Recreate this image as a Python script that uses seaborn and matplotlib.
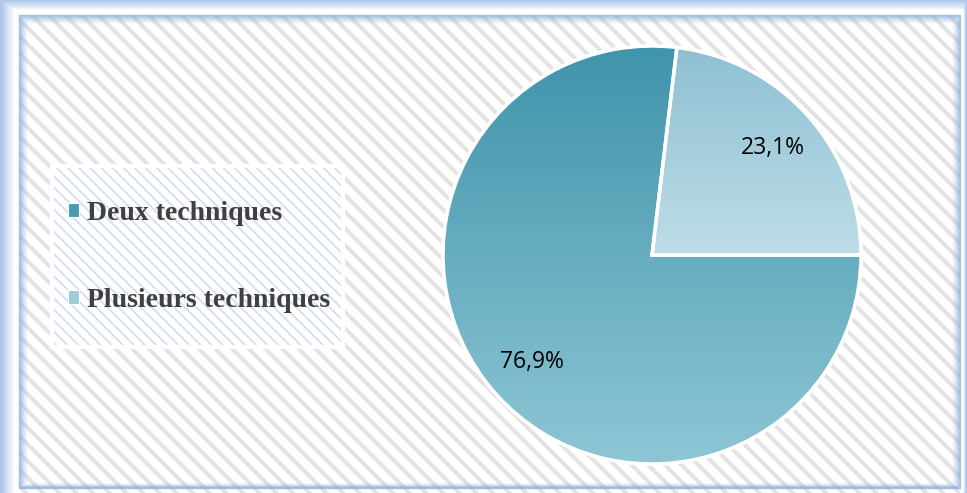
import numpy as np
import matplotlib
matplotlib.use("Agg")
import matplotlib.pyplot as plt
import seaborn as sns
from matplotlib.patches import Rectangle, Patch, Wedge
from matplotlib.colors import LinearSegmentedColormap

# ---- data ----
categories = ["Deux techniques", "Plusieurs techniques"]
values = [76.9, 23.1]
top_colors = ["#3F94AB", "#8EC0D2"]
bottom_colors = ["#8EC6D5", "#BEDDE7"]
legend_colors = ["#4A9CB2", "#9ECBDA"]

sns.set_style("white")
plt.rcParams["font.family"] = ["Liberation Serif", "DejaVu Serif"]

W, H = 967, 493
fig = plt.figure(figsize=(W / 100, H / 100), dpi=100)
fig.patch.set_facecolor("white")

def frect(x0, y0, x1, y1, z=-10, **kw):
    # pixel coords (top-left origin) -> figure fraction
    r = Rectangle((x0 / W, 1 - y1 / H), (x1 - x0) / W, (y1 - y0) / H,
                  transform=fig.transFigure, zorder=z, **kw)
    fig.patches.append(r)
    return r

# outer blue glow
frect(0, 0, W, H, facecolor="#A9C3E8", edgecolor="none")
for i, a in enumerate(np.linspace(0.15, 0.9, 8)):
    frect(i * 1.5, i * 1.1, W - i * 0.6, H, facecolor="white", edgecolor="none", alpha=a * 0.35)
frect(13, 9, W - 3, H, facecolor="white", edgecolor="none")

# inner hatched panel
plt.rcParams["hatch.linewidth"] = 2.9
frect(19, 15, W - 7, H + 5, facecolor="white", edgecolor="#E3E3E3", linewidth=0, hatch="\\\\")
# inner blue shadow edge
for i in range(9):
    frect(19 + i, 15 + i, W - 7 - i, H - 5 - i * 0.6, facecolor="none",
          edgecolor="#8FB1DE", linewidth=1.0, alpha=0.75 * (1 - i / 9) ** 1.5)

# legend box
plt.rcParams["hatch.linewidth"] = 1.3
frect(52, 166, 343, 347, facecolor="white", edgecolor="#D3DFF1", linewidth=0, hatch="\\\\\\")
frect(52, 166, 343, 347, facecolor="none", edgecolor="white", linewidth=3)

# ---- pie ----
cx, cy, R = 652, 255, 209
half = 220
ax = fig.add_axes([(cx - half) / W, 1 - (cy + half) / H, 2 * half / W, 2 * half / H])
ax.set_zorder(5)
ax.axis("off")
ax.patch.set_alpha(0)

wedges, _, autotexts = ax.pie(
    values, startangle=360 * values[1] / 100, counterclock=True,
    colors=legend_colors, radius=1.0,
    autopct=lambda p: f"{p:.1f}%".replace(".", ","), pctdistance=0.77,
    wedgeprops=dict(edgecolor="white", linewidth=2.5),
    textprops=dict(fontsize=16.5, color="black", family=["Open Sans", "DejaVu Sans"]),
)

for w, c0, c1 in zip(wedges, top_colors, bottom_colors):
    theta1, theta2 = w.theta1, w.theta2
    ang = np.radians(np.linspace(theta1, theta2, 200))
    ys = np.concatenate([[0], np.sin(ang)])
    ymin, ymax = ys.min(), ys.max()
    cmap = LinearSegmentedColormap.from_list("g", [c1, c0])
    grad = np.linspace(0, 1, 256).reshape(-1, 1)
    im = ax.imshow(grad, cmap=cmap, origin="lower", extent=[-1, 1, ymin, ymax],
                   aspect="auto", zorder=w.get_zorder() + 0.1, interpolation="bicubic")
    im.set_clip_path(w)
    ax.add_patch(Wedge((0, 0), 1.0, theta1, theta2, facecolor="none",
                       edgecolor="white", linewidth=2.5, zorder=w.get_zorder() + 0.2))
for t in autotexts:
    t.set_zorder(10)
ax.set_aspect("equal")
ax.set_xlim(-half / R, half / R)
ax.set_ylim(-half / R, half / R)

# ---- legend ----
handles = [Patch(facecolor=c, edgecolor="white", linewidth=0.8) for c in legend_colors]
leg = fig.legend(handles, categories, loc="upper left",
                 bbox_to_anchor=(54 / W, 1 - 187 / H), frameon=False,
                 prop=dict(family=["Liberation Serif", "DejaVu Serif"], weight="bold", size=20),
                 handlelength=0.4, handleheight=0.4, handletextpad=0.3,
                 labelspacing=2.25, borderpad=0)
leg.set_zorder(6)
for t in leg.get_texts():
    t.set_color("#404040")

fig.savefig("out.png", dpi=100)
